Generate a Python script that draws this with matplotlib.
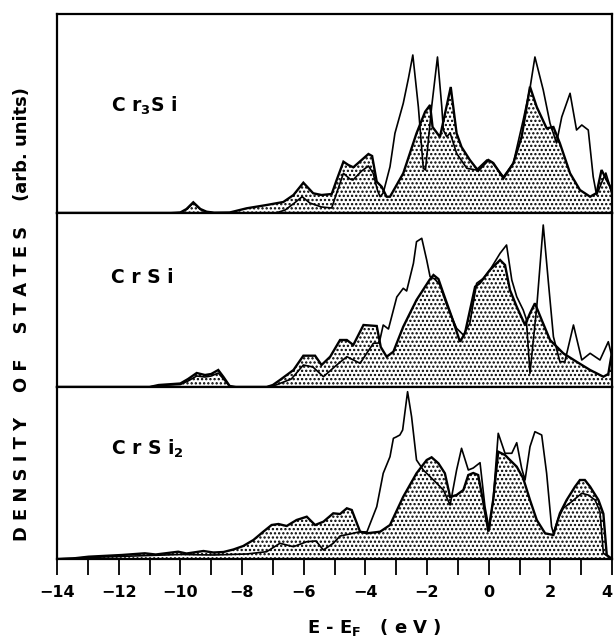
import matplotlib
matplotlib.use("Agg")
import matplotlib.pyplot as plt
import matplotlib.transforms as mtransforms

plt.rcParams["font.family"] = ["DejaVu Sans"]
plt.rcParams["mathtext.fontset"] = "dejavusans"
plt.rcParams["hatch.linewidth"] = 1.1

# energy (eV) and DOS height (arb. units)
# --- Cr3Si
cr3si_fill_e = [-14, -10.3, -10.0, -9.8, -9.58, -9.35, -9.15, -8.9, -8.4, -7.85, -7.2, -6.66, -6.33,
                -6.01, -5.69, -5.42, -5.09, -4.93, -4.71, -4.55, -4.39, -4.12, -3.9, -3.78, -3.63,
                -3.47, -3.31, -3.2, -2.77, -2.34, -2.06, -1.9, -1.82, -1.58, -1.23, -1.04, -0.88,
                -0.61, -0.34, -0.01, 0.15, 0.48, 0.8, 1.07, 1.34, 1.56, 1.88, 2.1, 2.31, 2.64,
                2.96, 3.29, 3.5, 3.66, 3.94, 4.0]
cr3si_fill_h = [0, 0, 0.5, 4, 10.7, 4, 1.3, 0.3, 0.5, 4.7, 8, 11, 18,
                30.3, 19.7, 18, 19, 33, 51.3, 48, 45.7, 53, 59, 57, 31.3,
                26.3, 16.3, 16.3, 39.7, 79.7, 101.3, 108, 86, 76, 126, 79.7, 66,
                53, 42.3, 53, 50, 34.7, 49.7, 76.3, 126.3, 106, 84.7, 86, 69.7, 39.7,
                23, 16.3, 20, 43, 26.3, 20]
cr3si_open_e = [-14, -10.3, -10.0, -9.8, -9.58, -9.35, -9.15, -8.9, -6.9, -6.6, -6.3, -6.05, -5.8,
                -5.42, -5.09, -4.93, -4.71, -4.5, -4.4, -4.12, -3.9, -3.75, -3.6, -3.52, -3.42,
                -3.2, -3.04, -2.77, -2.6, -2.46, -2.28, -2.12, -2.05, -1.85, -1.66, -1.52, -1.47,
                -1.36, -1.25, -1.04, -0.71, -0.4, -0.06, 0.1, 0.48, 0.8, 1.12, 1.34, 1.5, 1.77,
                1.99, 2.2, 2.37, 2.64, 2.85, 3.02, 3.23, 3.39, 3.5, 3.66, 3.8, 4.0]
cr3si_open_h = [0, 0, 0.3, 3.5, 10, 3.5, 1, 0, 0, 3, 10, 16.3, 10,
                6, 5, 20, 39.7, 34, 33, 42, 47, 40, 22, 16.3, 20,
                46.3, 79.7, 109.7, 135, 158, 106, 44.7, 43, 106, 156, 106, 83,
                76.3, 80, 59.7, 44.7, 43, 53, 51, 36.3, 50, 93, 124.7, 156, 123,
                89.7, 70, 96, 119.7, 83, 88, 83, 36.3, 18, 30, 40, 20]

# --- CrSi
crsi_fill_e = [-14, -11.0, -10.7, -10.0, -9.75, -9.47, -9.2, -9.0, -8.77, -8.6, -8.4, -8.2, -7.2,
               -7.0, -6.77, -6.33, -6.01, -5.63, -5.42, -5.14, -4.82, -4.6, -4.39, -4.06, -3.63,
               -3.5, -3.31, -3.09, -2.77, -2.34, -1.92, -1.79, -1.63, -1.47, -1.2, -0.93, -0.77,
               -0.44, -0.28, 0.04, 0.37, 0.53, 0.69, 0.91, 1.18, 1.34, 1.5, 1.72, 1.99, 2.42,
               2.85, 3.29, 3.72, 3.88, 4.0]
crsi_fill_h = [0, 0, 2, 3.5, 8, 14, 12, 13, 17, 10, 1, 0, 0,
               2, 7, 17, 31.3, 31.3, 22, 30.3, 47, 47, 42, 62, 61,
               40, 30.3, 35.3, 60.3, 87, 107, 112, 108, 93.7, 70.3, 45.3, 53.7,
               100.3, 104, 117, 127, 122, 97, 80.3, 62, 73.7, 83.7, 67, 47, 33.7,
               25.3, 17, 10.3, 13, 35]
crsi_open_e = [-14, -11.0, -10.7, -10.0, -9.75, -9.47, -9.2, -9.0, -8.77, -8.6, -8.4, -8.2, -7.2,
               -6.9, -6.4, -6.01, -5.7, -5.36, -4.93, -4.6, -4.17, -3.74, -3.55, -3.42, -3.25,
               -3.09, -2.98, -2.77, -2.66, -2.44, -2.34, -2.17, -2.01, -1.9, -1.75, -1.58, -1.36,
               -1.04, -0.82, -0.61, -0.39, -0.17, 0.04, 0.37, 0.58, 0.75, 0.91, 1.12, 1.22, 1.34,
               1.56, 1.77, 1.94, 2.1, 2.31, 2.47, 2.75, 3.02, 3.29, 3.61, 3.88, 4.0]
crsi_open_h = [0, 0, 1.5, 2.5, 6, 11, 10, 11, 14, 8, 0.5, 0, 0,
               2, 8, 22, 20, 10.3, 22, 30.3, 23.7, 43.7, 44, 62, 58,
               77, 90, 98.7, 96, 123.7, 145.3, 148.7, 127, 110.3, 108, 102, 82,
               58.7, 52, 63.7, 103.7, 108.7, 117, 133.7, 142, 107, 90.3, 77, 68, 13.7,
               80.3, 162, 103.7, 50.3, 25.3, 25.3, 62, 27, 33.7, 27, 45.3, 30]

# --- CrSi2
crsi2_fill_e = [-14, -13.5, -12.98, -11.9, -11.15, -10.8, -10.07, -9.8, -9.25, -8.93, -8.6, -8.28,
                -7.96, -7.63, -7.31, -7.04, -6.82, -6.55, -6.23, -5.9, -5.63, -5.36, -5.04, -4.82,
                -4.6, -4.44, -4.17, -3.95, -3.52, -3.2, -2.77, -2.34, -2.01, -1.85, -1.63, -1.42,
                -1.25, -1.04, -0.82, -0.66, -0.5, -0.34, -0.17, -0.01, 0.15, 0.31, 0.53, 0.69,
                0.91, 1.12, 1.34, 1.56, 1.83, 2.1, 2.31, 2.53, 2.8, 2.96, 3.12, 3.29, 3.56, 3.72,
                3.83, 4.0]
crsi2_fill_h = [0, 0.5, 2.3, 4, 5.7, 4.5, 7.3, 5.5, 8, 6.5, 7, 9.5,
                13, 19, 27.3, 34, 35, 33, 39, 42.3, 34, 37.3, 45.7, 45,
                50.7, 49, 27.3, 25.7, 27.3, 34, 62.3, 85.7, 99, 101.7, 95.7, 85.7,
                62, 64, 69, 84, 86, 84, 55.7, 27.3, 60, 107.3, 104, 99,
                92.3, 80.7, 59, 39, 25.7, 24, 45.7, 59, 72.3, 79, 79, 72.3, 59, 45.3,
                4, 0]
crsi2_open_e = [-14, -13, -12, -11, -10, -8.93, -7.85, -7.2, -6.77, -6.33, -5.9, -5.6, -5.36,
                -5.04, -4.82, -4.5, -4.17, -3.95, -3.63, -3.42, -3.2, -3.09, -3.0, -2.88, -2.79,
                -2.63, -2.5, -2.34, -2.12, -1.79, -1.47, -1.25, -1.04, -0.88, -0.66, -0.5, -0.28,
                -0.12, 0.02, 0.15, 0.31, 0.53, 0.75, 0.91, 1.07, 1.18, 1.34, 1.5, 1.72, 1.88,
                2.04, 2.1, 2.25, 2.42, 2.69, 3.02, 3.23, 3.45, 3.61, 3.72, 4.0]
crsi2_open_h = [0, 1.5, 2.5, 3.5, 4.5, 4, 5, 7.3, 15.7, 12.3, 17.3, 18, 9,
                15.7, 23, 25, 27.3, 27, 52.3, 85.7, 102.3, 120.7, 122, 124, 129,
                167.3, 142.3, 99, 89, 79, 69, 54, 89, 110.7, 89, 91, 96.3,
                52.3, 29, 60, 125.7, 105.7, 105.7, 116.3, 90.7, 79, 112.3, 127.3, 124, 85.7,
                32.3, 25.7, 40, 50.7, 57.3, 65.7, 64, 59, 47.3, 5.7, 0]

tick_vals = list(range(-14, 5, 2))

panels = [
    ("C r$_{\\mathbf{3}}$S i", cr3si_fill_e, cr3si_fill_h, cr3si_open_e, cr3si_open_h, 199, 0.54),
    ("C r S i", crsi_fill_e, crsi_fill_h, crsi_open_e, crsi_open_h, 174, 0.63),
    ("C r S i$_{\\mathbf{2}}$", crsi2_fill_e, crsi2_fill_h, crsi2_open_e, crsi2_open_h, 172, 0.64),
]

fig = plt.figure(figsize=(6.16, 6.41), dpi=100)
gs = fig.add_gridspec(3, 1, height_ratios=[p[5] for p in panels], hspace=0,
                      left=57 / 616, right=612 / 616, top=1 - 14 / 641, bottom=1 - 559 / 641)

axes = []
for i, (lbl, fe, fh, oe, oh, top, ly) in enumerate(panels):
    ax = fig.add_subplot(gs[i])
    ax.fill_between(fe, fh, 0, facecolor="white", edgecolor="black", hatch="....", linewidth=0)
    ax.plot(fe, fh, color="black", lw=1.7, solid_joinstyle="miter")
    ax.plot(oe, oh, color="black", lw=1.2)
    ax.set_xlim(-14, 4)
    ax.set_ylim(0, top)
    ax.text(0.098, ly, lbl, transform=ax.transAxes, fontsize=13.5, fontweight="bold",
            va="center", ha="left")
    for s in ax.spines.values():
        s.set_linewidth(1.6)
    ax.tick_params(left=False, labelleft=False, bottom=False, labelbottom=False)
    axes.append(ax)

ax = axes[-1]
ax.set_xticks(tick_vals)
ax.set_xticks(range(-13, 5, 2), minor=True)
ax.set_xticklabels([str(v).replace("-", "\u2212") for v in tick_vals],
                   fontsize=11.5, fontweight="bold")
ax.tick_params(axis="x", which="both", bottom=True, labelbottom=True, direction="out",
               length=11.5, width=1.3, pad=7)
# keep the last label inside the picture
last = ax.get_xticklabels()[-1]
last.set_transform(last.get_transform() + mtransforms.ScaledTranslation(-5 / 100, 0, fig.dpi_scale_trans))

fig.text(374 / 616, 1 - 628 / 641, "E - E$_{\\mathbf{F}}$   ( e V )", fontsize=13,
         fontweight="bold", ha="center", va="center")
fig.text(22 / 616, 1 - 314 / 641,
         "D E N S I T Y    O F    S T A T E S    (arb. units)", fontsize=12.9,
         fontweight="bold", rotation=90, ha="center", va="center")

fig.savefig("out.png", dpi=100)
